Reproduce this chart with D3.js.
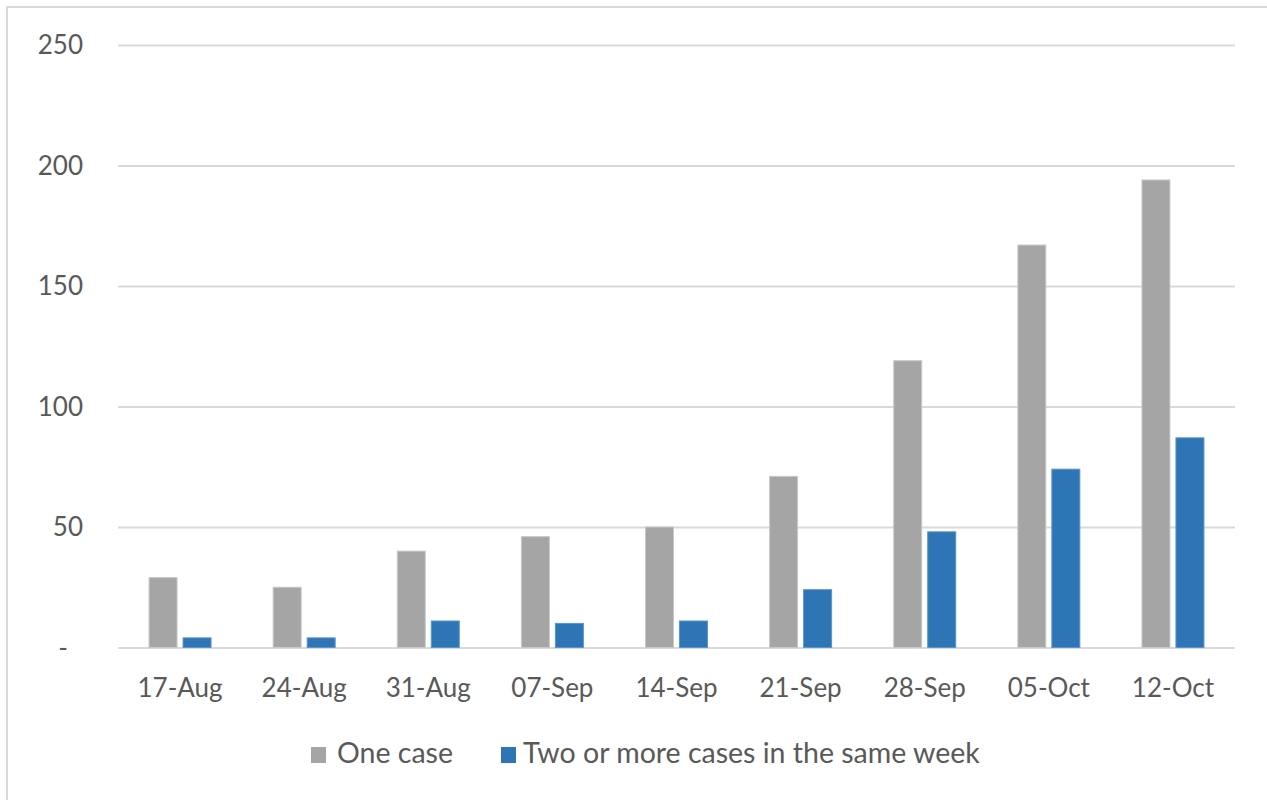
<!DOCTYPE html>
<html>
<head>
<meta charset="utf-8">
<script src="https://cdn.jsdelivr.net/npm/d3@7"></script>
<style>
  html, body { margin: 0; padding: 0; background: #fff; }
  svg { display: block; }
  text { font-family: Lato, "Open Sans", sans-serif; fill: #595959; }
</style>
</head>
<body>
<svg id="chart" width="1267" height="800"></svg>
<script>
// Weekly counts
const weeks = ["17-Aug", "24-Aug", "31-Aug", "07-Sep", "14-Sep", "21-Sep", "28-Sep", "05-Oct", "12-Oct"];
const oneCase = [29, 25, 40, 46, 50, 71, 119, 167, 194];
const twoOrMore = [4, 4, 11, 10, 11, 24, 48, 74, 87];
const seriesNames = ["One case", "Two or more cases in the same week"];
const seriesColors = ["#A5A5A5", "#2E75B6"];
const yTicks = [0, 50, 100, 150, 200, 250];

const svg = d3.select("#chart");

// outer frame
svg.append("rect")
  .attr("x", 7).attr("y", 7).attr("width", 1275).attr("height", 810)
  .attr("fill", "none").attr("stroke", "#d9d9d9").attr("stroke-width", 2);

const plotLeft = 118, plotRight = 1235, plotTop = 45, plotBottom = 647.5;

const x = d3.scaleBand().domain(weeks).range([plotLeft, plotRight]).paddingInner(0).paddingOuter(0);
const y = d3.scaleLinear().domain([0, 250]).range([plotBottom, plotTop]);

// gridlines
const grid = svg.append("g")
  .attr("transform", `translate(${plotLeft},0)`)
  .call(d3.axisLeft(y).tickValues(yTicks).tickSize(-(plotRight - plotLeft)).tickFormat(""));
grid.select(".domain").remove();
grid.selectAll("line").attr("stroke", "#d9d9d9").attr("stroke-width", 2);

// y labels
svg.append("g").selectAll("text")
  .data(yTicks)
  .join("text")
  .attr("x", d => d === 0 ? 68 : 83)
  .attr("y", d => y(d))
  .attr("dy", "0.36em")
  .attr("text-anchor", "end")
  .attr("font-size", 26)
  .text(d => d === 0 ? "-" : d);

// bars
const barW = 28, gap = 6;
const series = [oneCase, twoOrMore];
series.forEach((vals, si) => {
  svg.append("g").selectAll("rect")
    .data(vals)
    .join("rect")
    .attr("x", (d, i) => x(weeks[i]) + x.bandwidth() / 2 + (si === 0 ? -(barW + gap / 2) : gap / 2))
    .attr("y", d => y(d))
    .attr("width", barW)
    .attr("height", d => y(0) - y(d))
    .attr("fill", seriesColors[si])
    .attr("stroke", si === 0 ? "#c8c8c8" : "#5b95cc")
    .attr("stroke-width", 1);
});

// x labels
svg.append("g").selectAll("text")
  .data(weeks)
  .join("text")
  .attr("x", d => x(d) + x.bandwidth() / 2)
  .attr("y", 697)
  .attr("text-anchor", "middle")
  .attr("font-size", 26)
  .text(d => d);

// legend
const legendItems = [
  { name: seriesNames[0], color: seriesColors[0], sx: 311, tx: 337 },
  { name: seriesNames[1], color: seriesColors[1], sx: 501, tx: 523 }
];
const lg = svg.append("g");
legendItems.forEach(it => {
  lg.append("rect").attr("x", it.sx).attr("y", 747).attr("width", 15).attr("height", 16).attr("fill", it.color);
  lg.append("text").attr("x", it.tx).attr("y", 763).attr("font-size", 28.5).text(it.name);
});
</script>
</body>
</html>
